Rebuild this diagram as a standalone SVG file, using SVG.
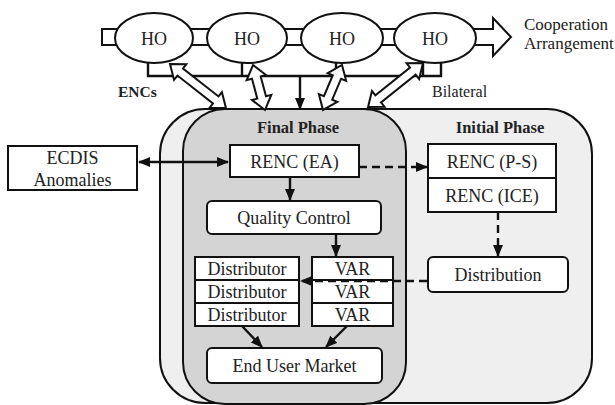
<svg xmlns="http://www.w3.org/2000/svg" width="615" height="405" viewBox="0 0 615 405">
  <style>
    .txt { font-family: "Liberation Serif", "Times New Roman", serif; fill: #222; }
    .lbl { font-size: 18px; text-anchor: middle; }
    .bold { font-weight: bold; }
    .box { fill: #fff; stroke: #111; stroke-width: 2; }
    .ln { fill: none; stroke: #111; stroke-width: 2.4; }
    .dash { stroke-dasharray: 8 5; }
    .blk { fill: #fff; stroke: #111; stroke-width: 2; stroke-linejoin: miter; }
  </style>
  <defs>
    <marker id="ah" viewBox="0 0 12 10" refX="11" refY="5" markerWidth="12" markerHeight="10" orient="auto-start-reverse" markerUnits="userSpaceOnUse">
      <path d="M0,0 L12,5 L0,10 z" fill="#111"/>
    </marker>
  </defs>

  <rect width="615" height="405" fill="#fff"/>

  <!-- phase containers -->
  <g id="initial-phase">
    <rect x="160" y="109" width="432" height="294" rx="45" ry="45" fill="#efefef" stroke="#111" stroke-width="2"/>
    <text class="txt bold" x="500" y="133" font-size="16.5" text-anchor="middle">Initial Phase</text>
  </g>
  <g id="final-phase">
    <rect x="183" y="109" width="223" height="295" rx="42" ry="42" fill="#d4d4d4" stroke="#111" stroke-width="2"/>
    <text class="txt bold" x="298" y="133" font-size="16.5" text-anchor="middle">Final Phase</text>
  </g>

  <!-- cooperation arrangement band -->
  <g id="cooperation-band">
    <polygon class="blk" points="102,29 493,29 493,18 511,37 493,56 493,45 102,45"/>
    <text class="txt" x="524" y="30" font-size="17">Cooperation</text>
    <text class="txt" x="524" y="49" font-size="17">Arrangement</text>
  </g>

  <!-- bracket under the HOs -->
  <g id="ho-bracket" fill="none" stroke="#111" stroke-width="2.4">
    <polyline points="148,62 148,76 441,76 441,62"/>
    <line x1="242" y1="62" x2="242" y2="76"/>
    <line x1="336" y1="62" x2="336" y2="76"/>
    <line x1="423" y1="62" x2="423" y2="76"/>
  </g>

  <g id="ho1"><ellipse class="box" cx="154" cy="38" rx="39" ry="25"/><text class="txt lbl" x="154" y="44.5" font-size="18.5">HO</text></g>
  <g id="ho2"><ellipse class="box" cx="247" cy="38" rx="40" ry="25"/><text class="txt lbl" x="247" y="44.5" font-size="18.5">HO</text></g>
  <g id="ho3"><ellipse class="box" cx="342" cy="38" rx="41" ry="25"/><text class="txt lbl" x="342" y="44.5" font-size="18.5">HO</text></g>
  <g id="ho4"><ellipse class="box" cx="435" cy="38" rx="41" ry="25"/><text class="txt lbl" x="435" y="44.5" font-size="18.5">HO</text></g>

  <text class="txt bold" x="118" y="97" font-size="15.5">ENCs</text>
  <text class="txt" x="432" y="97" font-size="16">Bilateral</text>

  <!-- nodes -->
  <g id="ecdis">
    <rect class="box" x="8" y="146" width="129" height="44"/>
    <text class="txt lbl" x="72.5" y="164">ECDIS</text>
    <text class="txt lbl" x="72.5" y="186">Anomalies</text>
  </g>
  <g id="renc-ea">
    <rect class="box" x="230" y="145" width="129" height="32"/>
    <text class="txt lbl" x="294.5" y="167.5">RENC (EA)</text>
  </g>
  <g id="quality-control">
    <rect class="box" x="207" y="201" width="174" height="33" rx="5"/>
    <text class="txt lbl" x="294" y="224">Quality Control</text>
  </g>
  <g id="renc-ps-ice">
    <rect class="box" x="428" y="144" width="128" height="68"/>
    <line x1="428" y1="178" x2="556" y2="178" stroke="#111" stroke-width="2"/>
    <text class="txt lbl" x="492" y="168">RENC (P-S)</text>
    <text class="txt lbl" x="492" y="202">RENC (ICE)</text>
  </g>
  <g id="distribution">
    <rect class="box" x="428" y="257" width="140" height="35" rx="5"/>
    <text class="txt lbl" x="498" y="280.5">Distribution</text>
  </g>
  <g id="distributors">
    <rect class="box" x="195" y="257" width="104" height="23"/>
    <rect class="box" x="195" y="280" width="104" height="23"/>
    <rect class="box" x="195" y="303" width="104" height="23"/>
    <text class="txt lbl" x="247" y="275" font-size="17">Distributor</text>
    <text class="txt lbl" x="247" y="297.5" font-size="17">Distributor</text>
    <text class="txt lbl" x="247" y="320.5" font-size="17">Distributor</text>
  </g>
  <g id="vars">
    <rect class="box" x="312" y="257" width="81" height="23"/>
    <rect class="box" x="312" y="280" width="81" height="23"/>
    <rect class="box" x="312" y="303" width="81" height="23"/>
    <text class="txt lbl" x="352.5" y="275">VAR</text>
    <text class="txt lbl" x="352.5" y="297.5">VAR</text>
    <text class="txt lbl" x="352.5" y="320.5">VAR</text>
  </g>
  <g id="end-user-market">
    <rect class="box" x="207" y="348" width="175" height="35" rx="5"/>
    <text class="txt lbl" x="294.5" y="372">End User Market</text>
  </g>

  <!-- connectors -->
  <g id="connectors">
    <line class="ln" x1="139" y1="162" x2="228" y2="162" marker-start="url(#ah)" marker-end="url(#ah)"/>
    <line class="ln" x1="290" y1="177" x2="290" y2="200" marker-end="url(#ah)"/>
    <line class="ln dash" x1="359" y1="167" x2="427" y2="167" marker-end="url(#ah)"/>
    <line class="ln dash" x1="498" y1="212" x2="498" y2="256" marker-end="url(#ah)"/>
    <line class="ln" x1="336" y1="234" x2="336" y2="256" marker-end="url(#ah)"/>
    <line class="ln dash" x1="427" y1="281" x2="301" y2="281" stroke-dasharray="12 10 200" marker-end="url(#ah)"/>
    <line class="ln" x1="242" y1="326" x2="262" y2="347" marker-end="url(#ah)"/>
    <line class="ln" x1="347" y1="326" x2="326" y2="347" marker-end="url(#ah)"/>
    <line class="ln" x1="300" y1="76" x2="300" y2="109" marker-end="url(#ah)"/>

    <!-- hollow double-headed exchange arrows -->
    <g transform="translate(170,64) rotate(38.2)">
      <polygon class="blk" points="0,0 13,-10 13,-4.5 58.2,-4.5 58.2,-10 71.2,0 58.2,10 58.2,4.5 13,4.5 13,10"/>
    </g>
    <g transform="translate(253,65) rotate(75.1)">
      <polygon class="blk" points="0,0 13,-10 13,-4.5 33.6,-4.5 33.6,-10 46.6,0 33.6,10 33.6,4.5 13,4.5 13,10"/>
    </g>
    <g transform="translate(342,65) rotate(112.9)">
      <polygon class="blk" points="0,0 13,-10 13,-4.5 35.8,-4.5 35.8,-10 48.8,0 35.8,10 35.8,4.5 13,4.5 13,10"/>
    </g>
    <g transform="translate(423,63) rotate(141.3)">
      <polygon class="blk" points="0,0 13,-10 13,-4.5 57.4,-4.5 57.4,-10 70.4,0 57.4,10 57.4,4.5 13,4.5 13,10"/>
    </g>
  </g>
</svg>
